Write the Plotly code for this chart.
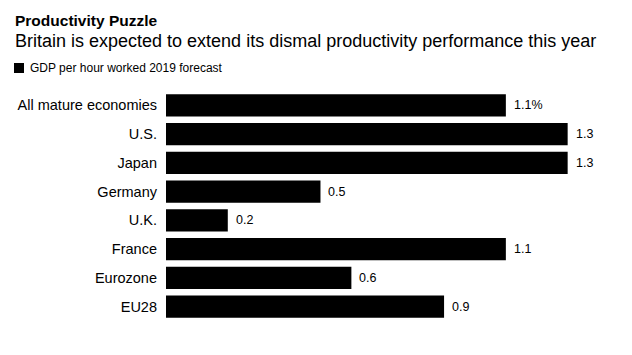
import plotly.graph_objects as go

categories = ["All mature economies", "U.S.", "Japan", "Germany", "U.K.", "France", "Eurozone", "EU28"]
values = [1.1, 1.3, 1.3, 0.5, 0.2, 1.1, 0.6, 0.9]
value_labels = ["1.1%", "1.3", "1.3", "0.5", "0.2", "1.1", "0.6", "0.9"]
series_name = "GDP per hour worked 2019 forecast"
title = "Productivity Puzzle"
subtitle = "Britain is expected to extend its dismal productivity performance this year"

FONT = "Liberation Sans, Arial, Helvetica, sans-serif"

W, H = 632, 355
ML, MR, MT, MB = 166, 18, 91, 34
pw, ph = W - ML - MR, H - MT - MB

def px_to_paper(x, y):
    return (x - ML) / pw, (H - MB - y) / ph

fig = go.Figure()
fig.add_trace(go.Bar(
    x=values, y=categories, orientation="h",
    marker=dict(color="#000000", line=dict(width=0)),
    name=series_name, showlegend=False, hoverinfo="x+y",
))

for c, v, t in zip(categories, values, value_labels):
    fig.add_annotation(x=v, y=c, xref="x", yref="y", text=t, showarrow=False,
                       xanchor="left", yanchor="middle", xshift=6,
                       font=dict(family=FONT, size=12.5, color="#000000"))

tx, ty = px_to_paper(13, 20)
fig.add_annotation(x=tx, y=ty, xref="paper", yref="paper", text="<b>" + title + "</b>",
                   showarrow=False, xanchor="left", yanchor="middle",
                   font=dict(family=FONT, size=15.5, color="#000000"))
sx, sy = px_to_paper(13, 41)
fig.add_annotation(x=sx, y=sy, xref="paper", yref="paper", text=subtitle,
                   showarrow=False, xanchor="left", yanchor="middle",
                   font=dict(family=FONT, size=18, color="#000000"))
lx, ly = px_to_paper(28, 68)
fig.add_annotation(x=lx, y=ly, xref="paper", yref="paper", text=series_name,
                   showarrow=False, xanchor="left", yanchor="middle",
                   font=dict(family=FONT, size=12, color="#000000"))
x0, y0 = px_to_paper(14, 63)
x1, y1 = px_to_paper(24, 73)
fig.add_shape(type="rect", xref="paper", yref="paper", x0=x0, x1=x1, y0=y1, y1=y0,
              fillcolor="#000000", line=dict(width=0))

fig.update_layout(
    width=W, height=H,
    margin=dict(l=ML, r=MR, t=MT, b=MB, pad=0),
    paper_bgcolor="#ffffff", plot_bgcolor="#ffffff",
    bargap=0.23,
    font=dict(family=FONT, size=13, color="#000000"),
    xaxis=dict(range=[0, 1.45], visible=False, fixedrange=True),
    yaxis=dict(autorange="reversed", showgrid=False, zeroline=False, showline=False,
               ticks="", ticklabelstandoff=8, tickfont=dict(family=FONT, size=14.5, color="#000000"),
               fixedrange=True, automargin=False),
)

fig.write_html("out.html", config={"displayModeBar": False},
               post_script="document.body.style.margin='0';document.body.style.padding='0';")
